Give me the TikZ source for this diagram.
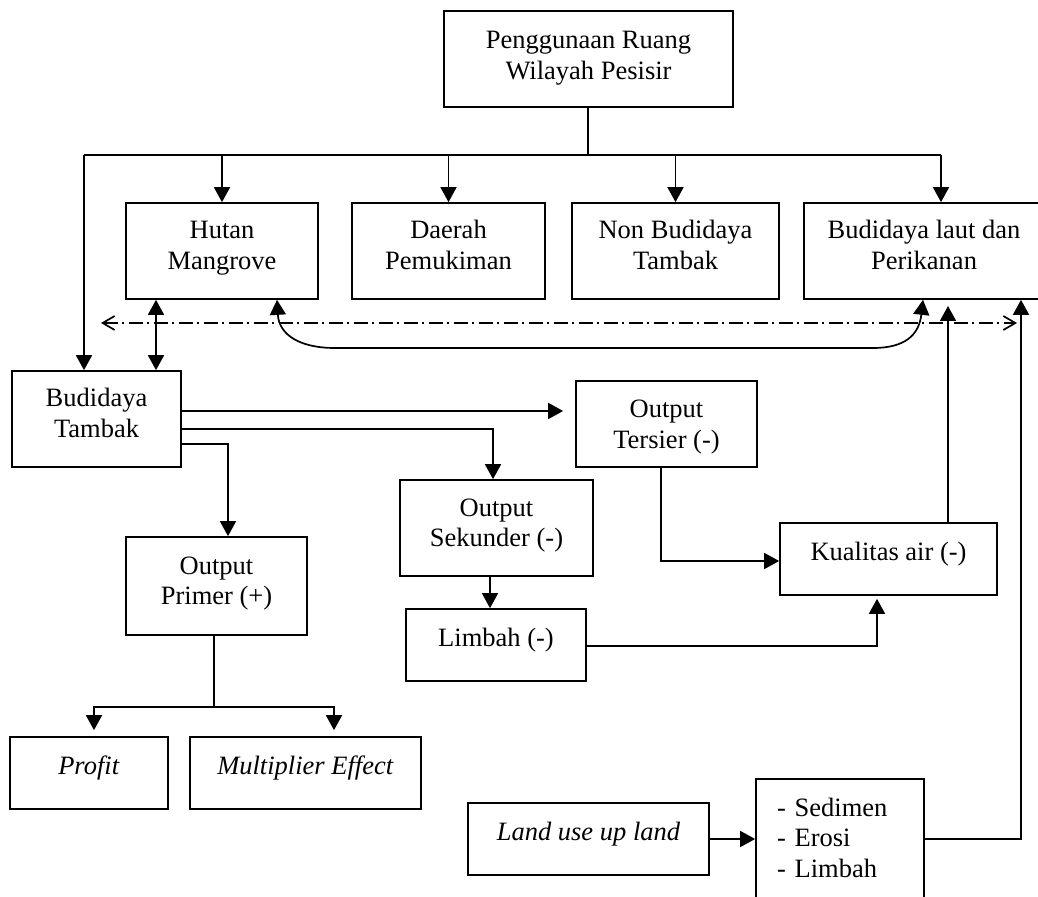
\documentclass[tikz,border=0pt]{standalone}
\usepackage{fontspec}
\setmainfont{Liberation Serif}
\usetikzlibrary{arrows.meta}
\begin{document}
\begin{tikzpicture}[x=0.5pt,y=-0.5pt,
  box/.style={draw, line width=0.85pt, inner ysep=0pt, inner xsep=2pt, align=center,
    font=\fontsize{13.25pt}{15.25pt}\selectfont},
  ml/.style={text height=33.25pt, text depth=14.75pt},
  sl/.style={text height=18.5pt, text depth=17.5pt},
  conn/.style={line width=0.85pt},
  arr/.style={conn, -{Triangle[length=7.5pt,width=8pt]}},
  darr/.style={conn, {Triangle[length=7.5pt,width=8pt]}-{Triangle[length=7.5pt,width=8pt]}},
  dashdotline/.style={line width=0.85pt, dash pattern=on 7pt off 2.25pt on 1pt off 2.25pt,
    {Straight Barb[length=6pt,width=7pt]}-{Straight Barb[length=6pt,width=7pt]}}
]
\useasboundingbox (0,0) rectangle (1038,897);
\clip (0,0) rectangle (1038,897);

% nodes
\node[box, text height=34.25pt, text depth=13.75pt, minimum width=144.5pt] (top) at (588.5,59) {Penggunaan Ruang\\Wilayah Pesisir};
\node[box, ml, minimum width=96pt] (hutan) at (222,251) {Hutan\\Mangrove};
\node[box, ml, minimum width=96.5pt] (daerah) at (448.5,251) {Daerah\\Pemukiman};
\node[box, ml, minimum width=103.5pt] (nonbud) at (675.5,251) {Non Budidaya\\Tambak};
\node[box, ml, minimum width=120pt] (laut) at (924,251) {Budidaya laut dan\\Perikanan};
\node[box, ml, minimum width=84.5pt] (tambak) at (96.5,419) {Budidaya\\Tambak};
\node[box, text height=33.75pt, text depth=9.25pt, minimum width=90.5pt] (tersier) at (666.5,424) {Output\\Tersier (-)};
\node[box, ml, minimum width=96.5pt] (sekunder) at (496.5,528) {Output\\Sekunder (-)};
\node[box, text height=33.75pt, text depth=15.25pt, minimum width=90.5pt] (primer) at (216.5,586) {Output\\Primer (+)};
\node[box, sl, minimum width=90pt] (limbah) at (496,645) {Limbah (-)};
\node[box, sl, minimum width=108.5pt] (kualitas) at (888.5,559) {Kualitas air (-)};
\node[box, sl, minimum width=79pt] (profit) at (89,773) {\textit{Profit}};
\node[box, sl, minimum width=115.5pt] (mult) at (305.5,773) {\textit{Multiplier Effect}};
\node[box, sl, minimum width=120.5pt] (landuse) at (588.5,839) {\textit{Land use up land}};
\node[box, text height=18.5pt, text depth=41.5pt, minimum width=84pt, inner xsep=0pt, text width=63pt, align=left] (sedimen) at (840,839) {- Sedimen\\- Erosi\\- Limbah};

% helper coordinates
\coordinate (b0) at (588,155);
\coordinate (bL) at (84,155);
\coordinate (bR) at (941,155);
\coordinate (hx) at (156,0);
\coordinate (dl) at (101,323);
\coordinate (dr) at (1017,323);
\coordinate (cvL) at (277,0);
\coordinate (cvR) at (923,0);
\coordinate (kTop) at (948,306);
\coordinate (rx) at (1021,0);
\coordinate (t1) at (0,411);
\coordinate (t2) at (493,429);
\coordinate (t3) at (228,444);
\coordinate (s1) at (490,0);
\coordinate (q1) at (661,561);
\coordinate (q2) at (877,646);
\coordinate (p0) at (214,707);
\coordinate (pL) at (94,707);
\coordinate (pR) at (334,707);

% top distribution
\draw[conn] (top.south -| b0) -- (b0);
\draw[conn] (bL) -- (bR);
\draw[arr] (bL) -- (bL |- tambak.north);
\draw[arr] (hutan.north |- bL) -- (hutan.north);
\draw[arr] (daerah.north |- bL) -- (daerah.north);
\draw[arr] (nonbud.north |- bL) -- (nonbud.north);
\draw[arr] (bR) -- (bR |- laut.north);

% dash-dot line
\draw[dashdotline] (dl) -- (dr);

% hutan <-> tambak
\draw[darr] (hutan.south -| hx) -- (tambak.north -| hx);

% curve hutan <-> laut
\draw[darr] (hutan.south -| cvL) .. controls (279,335) and (300,348) .. (335,348)
  -- (873,348) .. controls (905,348) and (919,335) .. (laut.south -| cvR);

% into laut from below
\draw[arr] (kualitas.north -| kTop) -- (kTop);
\draw[arr] (sedimen.east) -| (laut.south -| rx);

% from tambak
\draw[arr, shorten >=6pt] (t1 -| tambak.east) -- (t1 -| tersier.west);
\draw[arr] (t2 -| tambak.east) -| (sekunder.north -| t2);
\draw[arr] (t3 -| tambak.east) -| (primer.north -| t3);

% sekunder -> limbah
\draw[arr] (sekunder.south -| s1) -- (limbah.north -| s1);

% tersier -> kualitas, limbah -> kualitas
\draw[arr] (tersier.south -| q1) |- (kualitas.west |- q1);
\draw[arr, shorten >=1.5pt] (limbah.east |- q2) -| (kualitas.south -| q2);

% primer -> profit, multiplier
\draw[conn] (primer.south -| p0) -- (p0);
\draw[arr, shorten >=3pt] (p0) -- (pL) -- (profit.north -| pL);
\draw[arr, shorten >=3pt] (p0) -- (pR) -- (mult.north -| pR);

% land use -> sedimen
\draw[arr] (landuse.east) -- (sedimen.west |- landuse.east);
\end{tikzpicture}
\end{document}
